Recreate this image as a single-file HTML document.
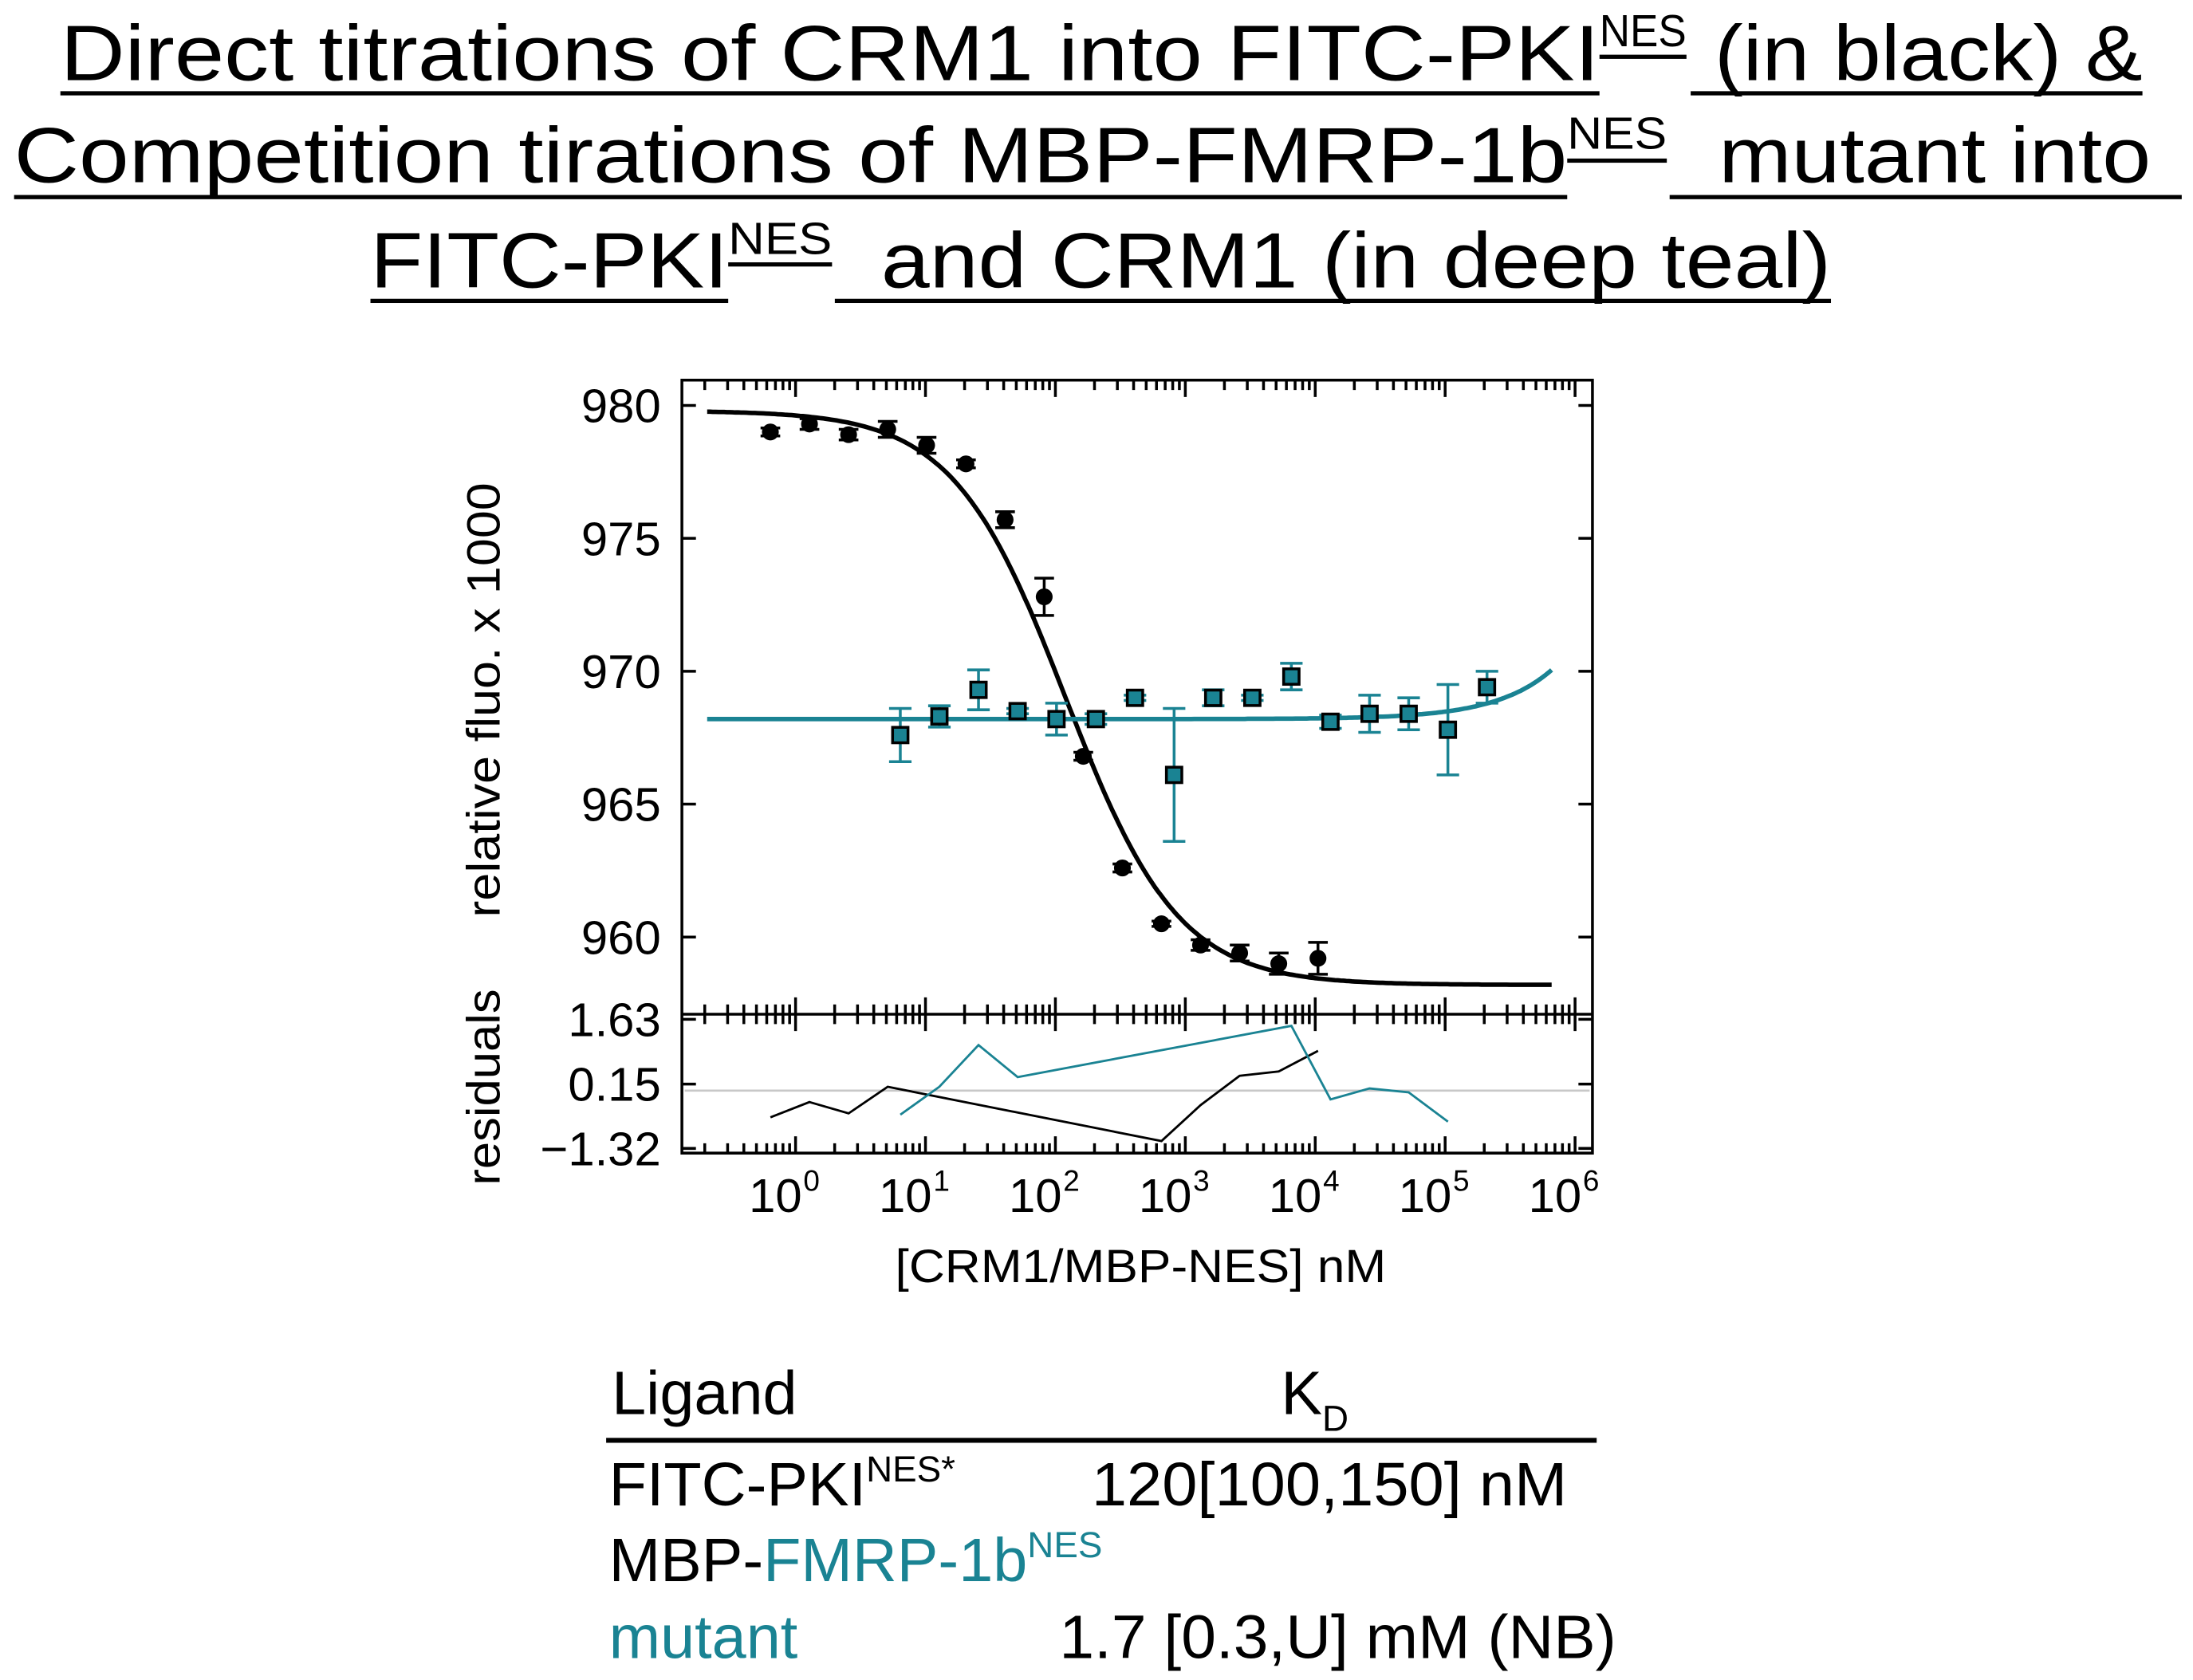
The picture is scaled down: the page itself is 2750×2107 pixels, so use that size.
<!DOCTYPE html>
<html><head><meta charset="utf-8">
<style>
html,body{margin:0;padding:0;background:#fff;}
svg{display:block;font-family:"Liberation Sans",Arial,sans-serif;}
</style></head>
<body>
<svg id="chart" width="2750" height="2107" viewBox="0 0 1563 1197.6" xmlns="http://www.w3.org/2000/svg">
<g id="title" font-size="56" fill="#000">
  <text x="43" y="57" textLength="1097" lengthAdjust="spacingAndGlyphs">Direct titrations of CRM1 into FITC-PKI</text>
  <text x="1140" y="33" font-size="32" textLength="62" lengthAdjust="spacingAndGlyphs">NES</text>
  <text x="1222" y="57" textLength="305" lengthAdjust="spacingAndGlyphs">(in black) &amp;</text>
  <rect x="43" y="65" width="1097" height="3"/><rect x="1140" y="39" width="62" height="3"/><rect x="1205" y="65" width="322" height="3"/>
  <text x="10" y="130" textLength="1107" lengthAdjust="spacingAndGlyphs">Competition tirations of MBP-FMRP-1b</text>
  <text x="1117" y="106" font-size="32" textLength="71" lengthAdjust="spacingAndGlyphs">NES</text>
  <text x="1225" y="130" textLength="308" lengthAdjust="spacingAndGlyphs">mutant into</text>
  <rect x="10" y="139" width="1107" height="3"/><rect x="1117" y="113" width="71" height="3"/><rect x="1190" y="139" width="365" height="3"/>
  <text x="264" y="205" textLength="255" lengthAdjust="spacingAndGlyphs">FITC-PKI</text>
  <text x="519" y="181" font-size="32" textLength="74" lengthAdjust="spacingAndGlyphs">NES</text>
  <text x="628" y="205" textLength="677" lengthAdjust="spacingAndGlyphs">and CRM1 (in deep teal)</text>
  <rect x="264" y="213" width="255" height="3"/><rect x="519" y="187" width="74" height="3"/><rect x="595" y="213" width="710" height="3"/>
</g>
<g id="axes"></g>
<g id="marks"></g>
<text font-size="33" text-anchor="middle" transform="translate(356,499) rotate(-90)" textLength="310" lengthAdjust="spacingAndGlyphs">relative fluo. x 1000</text>
<text font-size="33" text-anchor="middle" transform="translate(356,775) rotate(-90)" textLength="140" lengthAdjust="spacingAndGlyphs">residuals</text>
<text font-size="33" x="638" y="914" textLength="350" lengthAdjust="spacingAndGlyphs">[CRM1/MBP-NES] nM</text>
<g id="table" font-size="44">
  <text x="436" y="1008">Ligand</text>
  <text x="913" y="1008">K<tspan font-size="26" dy="12">D</tspan></text>
  <rect x="432" y="1025" width="706" height="3.5"/>
  <text x="434" y="1073">FITC-PKI<tspan font-size="26" dy="-17">NES*</tspan></text>
  <text x="778" y="1073" textLength="339" lengthAdjust="spacingAndGlyphs">120[100,150] nM</text>
  <text x="434" y="1127">MBP-<tspan fill="#1a8393">FMRP-1b</tspan><tspan fill="#1a8393" font-size="26" dy="-17">NES</tspan></text>
  <text x="434" y="1182" fill="#1a8393">mutant</text>
  <text x="755" y="1182" textLength="397" lengthAdjust="spacingAndGlyphs">1.7 [0.3,U] mM (NB)</text>
</g>
</svg>
<script>
const blackX = [0.64,1.28,2.56,5.12,10.2,20.5,41,82,164,328,655,1310,2620,5240,10500];
const blackY = [979.0,979.3,978.9,979.1,978.5,977.8,975.7,972.8,966.8,962.6,960.5,959.7,959.4,959.0,959.2];
const blackErr = [0.15,0.2,0.2,0.3,0.3,0.15,0.3,0.7,0.15,0.15,0.1,0.2,0.3,0.4,0.6];
const tealX = [6.4,12.8,25.6,51.2,102,205,410,820,1640,3280,6550,13100,26200,52400,105000,210000];
const tealY = [967.6,968.3,969.3,968.5,968.2,968.2,969.0,966.1,969.0,969.0,969.8,968.1,968.4,968.4,967.8,969.4];
const tealErr = [1.0,0.4,0.75,0.1,0.6,0.2,0.1,2.5,0.3,0.1,0.5,0.25,0.7,0.6,1.7,0.6];
const blackResid = [-0.61,-0.26,-0.52,0.09,null,null,null,null,null,null,-1.15,-0.33,0.34,0.44,0.91];
const tealResid = [-0.55,0.09,1.04,0.31,null,null,null,null,null,null,1.48,-0.2,0.05,-0.04,-0.71,null];
const yTicks = [960,965,970,975,980];
const residTicks = [-1.32,0.15,1.63];
const xDecades = [0,1,2,3,4,5,6];
const blackFit = {top:979.8,bottom:958.2,kd:120};
const tealFit = {base:968.2,slope:2.8e-6};

const NS='http://www.w3.org/2000/svg';
const L=486,R=1135,T=271,MB=723,RB=822;
const xs=v=>567+92.6*Math.log10(v);
const ys=v=>289+(980-v)*18.95;
const rs=v=>772.8-(v-0.15)*31.2;
const TEAL='#1a8393';
function mk(tag,attrs,parent){const e=document.createElementNS(NS,tag);for(const k in attrs)e.setAttribute(k,attrs[k]);parent.appendChild(e);return e;}
const ax=document.getElementById('axes'), mg=document.getElementById('marks');

let f=mk('path',{d:`M${L},${T}H${R}V${RB}H${L}Z M${L},${MB}H${R}`,fill:'none',stroke:'#000','stroke-width':2},ax);


let tk='';
yTicks.forEach(v=>{const y=ys(v);tk+=`M${L},${y}h10M${R},${y}h-10`;
  const t=mk('text',{x:L-15,y:y+12,'font-size':34,'text-anchor':'end'},ax);t.textContent=v;
  
  });
residTicks.forEach(v=>{const y=rs(v);tk+=`M${L},${y}h10M${R},${y}h-10`;
  const t=mk('text',{x:L-15,y:y+12,'font-size':34,'text-anchor':'end'},ax);t.textContent=(v<0?'\u2212':'')+Math.abs(v).toFixed(2);
  
  });
for(let d=-1;d<=6;d++){for(let m=1;m<=9;m++){const v=Math.pow(10,d)*m;const x=xs(v);if(x<L+2||x>R-2)continue;
  const maj=m===1;const a=maj?12:7;
  tk+=`M${x},${T}v${a}M${x},${MB-a}v${2*a}M${x},${RB}v${-a}`;}}
const tp=mk('path',{d:tk,stroke:'#000','stroke-width':2,fill:'none'},ax);


xDecades.forEach(d=>{const t=mk('text',{x:xs(Math.pow(10,d))-8,y:864,'font-size':34,'text-anchor':'middle'},ax);
  t.textContent='10';const s=mk('tspan',{'font-size':21,dy:-15,dx:1},t);s.textContent=d;
  
  });

const z=mk('line',{x1:L+2,x2:R-2,y1:rs(0),y2:rs(0),stroke:'#c8c8c8','stroke-width':1.5},mg);



let pb='',pt='';
for(let i=0;i<=300;i++){const lx=-0.68+i*(6.5/300);const v=Math.pow(10,lx);
  const yb=blackFit.bottom+(blackFit.top-blackFit.bottom)/(1+v/blackFit.kd);
  const yt=tealFit.base+tealFit.slope*v;
  pb+=(i?'L':'M')+xs(v).toFixed(1)+','+ys(yb).toFixed(1);
  pt+=(i?'L':'M')+xs(v).toFixed(1)+','+ys(yt).toFixed(1);}
const fb=mk('path',{d:pb,stroke:'#000','stroke-width':3.2,fill:'none'},mg);


const ft=mk('path',{d:pt,stroke:TEAL,'stroke-width':3.2,fill:'none'},mg);



blackX.forEach((v,i)=>{const x=xs(v),y=ys(blackY[i]),e=blackErr[i]*18.95;
  const eb=mk('path',{d:`M${x},${y-e}V${y+e}M${x-7},${y-e}h14M${x-7},${y+e}h14`,stroke:'#000','stroke-width':2,fill:'none'},mg);
  
  
  const c=mk('circle',{cx:x,cy:y,r:6,fill:'#000'},mg);
  
  });
tealX.forEach((v,i)=>{const x=xs(v),y=ys(tealY[i]),e=tealErr[i]*18.95;
  const eb=mk('path',{d:`M${x},${y-e}V${y+e}M${x-8},${y-e}h16M${x-8},${y+e}h16`,stroke:TEAL,'stroke-width':2,fill:'none'},mg);
  
  
  const s=mk('rect',{x:x-5.5,y:y-5.5,width:11,height:11,fill:TEAL,stroke:'#000','stroke-width':2},mg);
  
  });
function resid(xsArr,vals,col,name){let d='';xsArr.forEach((v,i)=>{if(vals[i]==null)return;d+=(d?'L':'M')+xs(v).toFixed(1)+','+rs(vals[i]).toFixed(1);});
  const p=mk('path',{d:d,stroke:col,'stroke-width':1.6,fill:'none'},mg);
  
  }
resid(blackX,blackResid,'#000','black-residual-line');
resid(tealX,tealResid,TEAL,'teal-residual-line');
</script>
</body></html>
